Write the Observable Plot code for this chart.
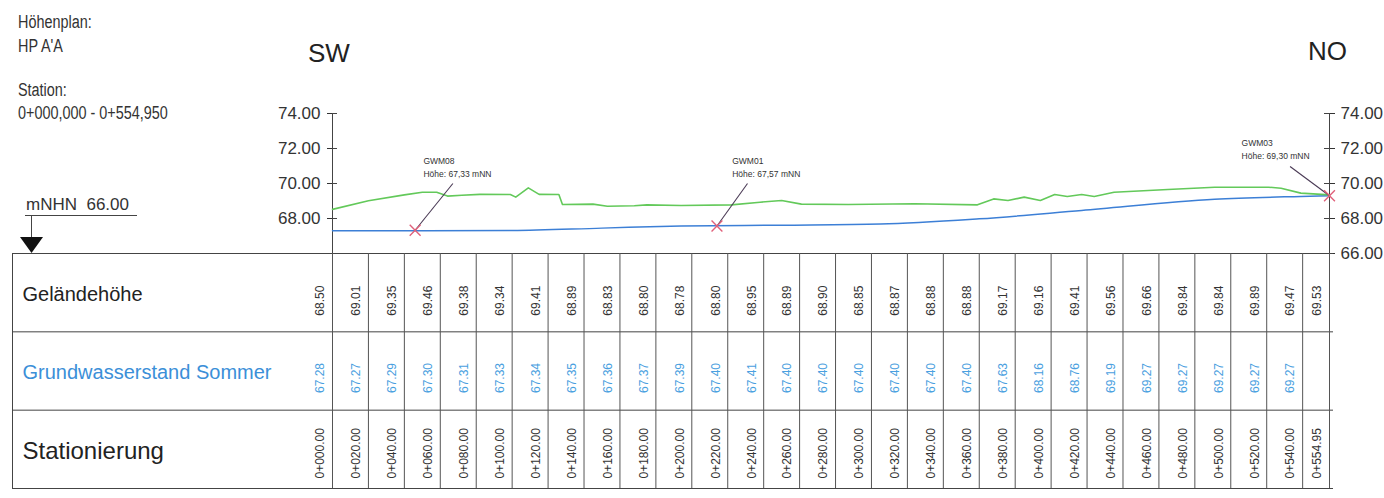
<!DOCTYPE html>
<html><head><meta charset="utf-8">
<script src="https://cdn.jsdelivr.net/npm/d3@7"></script>
<script src="https://cdn.jsdelivr.net/npm/@observablehq/plot@0.6"></script>
<style>
body{margin:0;background:#fff;}
#wrap{position:relative;width:1384px;height:498px;overflow:hidden;background:#fff;font-family:"Liberation Sans",Arial,sans-serif;color:#222}
.t{position:absolute;white-space:pre;line-height:1;}
.narrow{font-size:18px;transform:scaleX(0.8);transform-origin:left top;color:#333}
svg.plot-abs{position:absolute;left:0;}
</style></head><body><div id="wrap"></div>
<script>
// ---- data ----
const stations = [0,20,40,60,80,100,120,140,160,180,200,220,240,260,280,300,320,340,360,380,400,420,440,460,480,500,520,540,554.95];
const gelaende = [68.50,69.01,69.35,69.46,69.38,69.34,69.41,68.89,68.83,68.80,68.78,68.80,68.95,68.89,68.90,68.85,68.87,68.88,68.88,69.17,69.16,69.41,69.56,69.66,69.84,69.84,69.89,69.47,69.53];
const grundwasser = [67.28,67.27,67.29,67.30,67.31,67.33,67.34,67.35,67.36,67.37,67.39,67.40,67.41,67.40,67.40,67.40,67.40,67.40,67.40,67.63,68.16,68.76,69.19,69.27,69.27,69.27,69.27,69.27,null];
const rows = ["Geländehöhe","Grundwasserstand Sommer","Stationierung"];
const yTicksLeft = [68,70,72,74];
const yTicksRight = [66,68,70,72,74];

// terrain profile (green line)
const terrainStation = [0,20,40,50,58,64,72,82,99,102,109,115,126,128,145,153,168,175,194,222,238,250,261,287,324,359,368,376,385,394,402,409,417,424,435,465,491,521,528,539,554.95];
const terrainLevel   = [68.52,69.01,69.35,69.50,69.50,69.28,69.33,69.38,69.37,69.22,69.75,69.38,69.37,68.80,68.82,68.70,68.73,68.78,68.74,68.78,68.93,69.03,68.82,68.80,68.84,68.78,69.12,69.03,69.22,69.03,69.37,69.26,69.37,69.26,69.50,69.66,69.79,69.79,69.73,69.45,69.35];

// groundwater profile (blue line)
const gwStation = [0,100,150,194,250,305,360,417,491,539,554.95];
const gwLevel   = [67.30,67.31,67.45,67.57,67.62,67.68,67.98,68.46,69.10,69.26,69.30];

// wells
const wellNames     = ["GWM08","GWM01","GWM03"];
const wellStation   = [46,214,554.95];
const wellLevel     = [67.33,67.57,69.30];
const leaderStation = [67,231,533];
const leaderLevel   = [70.0,70.0,70.97];
const labelStation  = [50.6,222.5,506];
const labelLevel    = [70.98,70.98,72.0];

// ---- layout ----
const W = 1384, ML = 332, MR = 55;
const xDomain = [0, stations[stations.length-1]];
const font = "Liberation Sans, Arial, sans-serif";
const f2 = d3.format(".2f");

const terrain = terrainStation.map((s,i)=>({s, v: terrainLevel[i]}));
const gw = gwStation.map((s,i)=>({s, v: gwLevel[i]}));
const wells = wellNames.map((n,i)=>({n, s: wellStation[i], v: wellLevel[i], ls: leaderStation[i], lv: leaderLevel[i], ts: labelStation[i], tv: labelLevel[i]}));

const topPlot = Plot.plot({
  width: W, height: 265, marginLeft: ML, marginRight: MR, marginTop: 113, marginBottom: 12,
  style: {background: "transparent", fontFamily: font, overflow: "visible"},
  x: {domain: xDomain, axis: null},
  y: {domain: [66, 74], axis: null},
  marks: [
    Plot.ruleX([xDomain[0], xDomain[1]], {x: d=>d, y1: 66, y2: 74, stroke: "#444"}),
    Plot.axisY(yTicksLeft, {anchor: "left", tickSize: 5, tickPadding: 7, tickFormat: f2, fontSize: 17, label: null, color: "#333"}),
    Plot.ruleY(yTicksLeft, {y: d=>d, x1: xDomain[0], x2: xDomain[0], insetRight: -5, stroke: "#444"}),
    Plot.axisY(yTicksRight, {anchor: "right", tickSize: 5, tickPadding: 6, tickFormat: f2, fontSize: 17, label: null, color: "#333"}),
    Plot.ruleY(yTicksRight, {y: d=>d, x1: xDomain[1], x2: xDomain[1], insetLeft: -5, stroke: "#444"}),
    Plot.line(gw, {x: "s", y: "v", stroke: "#3c7fd6", strokeWidth: 1.5, curve: "monotone-x"}),
    Plot.line(terrain, {x: "s", y: "v", stroke: "#63c95a", strokeWidth: 1.6}),
    Plot.link(wells, {x1: "s", y1: "v", x2: "ls", y2: "lv", stroke: "#4a3a55", strokeWidth: 1.1}),
    Plot.dot(wells, {x: "s", y: "v", symbol: "times", r: 5, stroke: "#e0607a", strokeWidth: 1.4}),
    Plot.text(wells, {x: "ts", y: "tv", text: d => `${d.n}\nHöhe: ${f2(d.v).replace(".", ",")} mNN`, fontSize: 8.5, lineHeight: 1.55, textAnchor: "start", fill: "#333"})
  ]
});

const rowFont = {"Geländehöhe": 20, "Grundwasserstand Sommer": 20, "Stationierung": 24};
const rowColor = {"Geländehöhe": "#222", "Grundwasserstand Sommer": "#3b8fd8", "Stationierung": "#222"};
const gelData = stations.map((s,i)=>({s, v: gelaende[i]}));
const gwData = stations.map((s,i)=>({s, v: grundwasser[i]})).filter(d => d.v != null);

const tablePlot = Plot.plot({
  width: W, height: 250, marginLeft: ML, marginRight: MR, marginTop: 5, marginBottom: 10,
  style: {background: "transparent", fontFamily: font, overflow: "visible"},
  x: {domain: xDomain, axis: null},
  y: {domain: [rows.length, 0], axis: null},
  color: {type: "identity"},
  marks: [
    Plot.ruleY(d3.range(rows.length + 1), {y: d=>d, insetLeft: -320, insetRight: -4, stroke: "#444"}),
    Plot.ruleX(stations, {x: d=>d, y1: 0, y2: rows.length, stroke: "#555"}),
    Plot.ruleX([xDomain[0]], {x: d=>d, y1: 0, y2: rows.length, dx: -320, stroke: "#444"}),
    Plot.text(rows, {y: (d,i)=>i+0.5, frameAnchor: "left", dx: -310, dy: 2, textAnchor: "start", text: d=>d, fontSize: d=>rowFont[d], fill: d=>rowColor[d]}),
    Plot.text(gelData, {x: "s", y: () => rows.indexOf("Geländehöhe") + 0.5, text: d=>f2(d.v), rotate: -90, dx: -12, dy: 8, fontSize: 12, fill: "#333"}),
    Plot.text(gwData, {x: "s", y: () => rows.indexOf("Grundwasserstand Sommer") + 0.5, text: d=>f2(d.v), rotate: -90, dx: -12, dy: 7, fontSize: 12, fill: "#4aa0e0"}),
    Plot.text(stations, {x: d=>d, y: () => rows.indexOf("Stationierung") + 0.5, text: d=>"0+" + d3.format("06.2f")(d), rotate: -90, dx: -12, dy: 4, fontSize: 12, fill: "#333"})
  ]
});

const wrap = document.getElementById("wrap");
topPlot.classList.add("plot-abs"); topPlot.style.top = "0px";
tablePlot.classList.add("plot-abs"); tablePlot.style.top = "248px";
wrap.appendChild(topPlot);
wrap.appendChild(tablePlot);

function addText(txt, left, top, cls, extra) {
  const d = document.createElement("div");
  d.className = "t " + (cls || "");
  d.textContent = txt;
  d.style.left = left + "px"; d.style.top = top + "px";
  if (extra) Object.assign(d.style, extra);
  wrap.appendChild(d);
}
addText("Höhenplan:", 18, 13, "narrow");
addText("HP A'A", 18, 37, "narrow");
addText("Station:", 18, 81, "narrow");
addText("0+000,000 - 0+554,950", 18, 104, "narrow");
addText("SW", 308, 40, "", {fontSize: "26px", color: "#222"});
addText("NO", 1308, 38, "", {fontSize: "26px", color: "#222"});
addText("mNHN  66.00", 26, 196, "", {fontSize: "17px", color: "#333"});

const ns = "http://www.w3.org/2000/svg";
const deco = document.createElementNS(ns, "svg");
deco.setAttribute("width", W); deco.setAttribute("height", 498);
deco.style.position = "absolute"; deco.style.left = "0"; deco.style.top = "0"; deco.style.pointerEvents = "none";
deco.innerHTML = `<line x1="25" y1="215.5" x2="137" y2="215.5" stroke="#444"/>
<line x1="31.5" y1="215" x2="31.5" y2="238" stroke="#444"/>
<polygon points="20,237 43,237 31.5,253" fill="#111"/>`;
wrap.appendChild(deco);
</script></body></html>
